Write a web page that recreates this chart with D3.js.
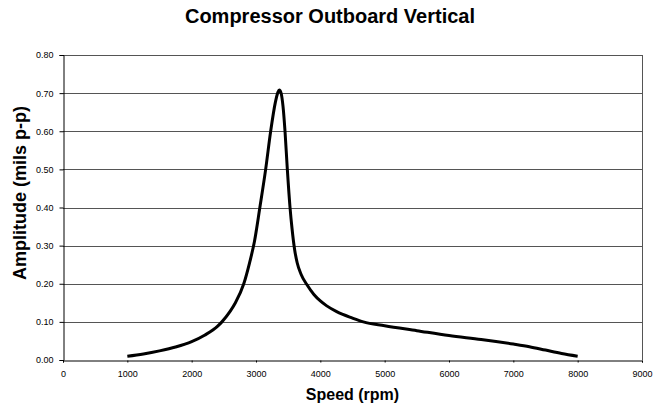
<!DOCTYPE html>
<html>
<head>
<meta charset="utf-8">
<script src="https://cdn.jsdelivr.net/npm/d3@7"></script>
<style>
  body { margin: 0; background: #fff; }
  svg { display: block; font-family: "Liberation Sans", Arial, sans-serif; }
</style>
</head>
<body>
<svg id="chart" width="662" height="408"></svg>
<script>
const speed = [1000, 1250, 1500, 1750, 2000, 2200, 2400, 2470, 2600, 2680, 2810, 2900, 2975, 3060, 3150, 3228, 3300, 3340, 3362, 3390, 3420, 3451, 3487, 3529, 3560, 3600, 3640, 3700, 3790, 3900, 4000, 4100, 4254, 4500, 4668, 5000, 5500, 6000, 6500, 7000, 7250, 7500, 7750, 8000];
const amplitude = [0.010, 0.016, 0.024, 0.034, 0.048, 0.065, 0.088, 0.100, 0.128, 0.150, 0.200, 0.255, 0.310, 0.400, 0.500, 0.600, 0.675, 0.702, 0.708, 0.700, 0.665, 0.600, 0.500, 0.400, 0.345, 0.290, 0.255, 0.225, 0.198, 0.172, 0.155, 0.142, 0.127, 0.110, 0.100, 0.090, 0.077, 0.064, 0.054, 0.042, 0.035, 0.026, 0.017, 0.010];
const xTicks = [0, 1000, 2000, 3000, 4000, 5000, 6000, 7000, 8000, 9000];
const yTicks = [0, 0.1, 0.2, 0.3, 0.4, 0.5, 0.6, 0.7, 0.8];
const title = "Compressor Outboard Vertical";
const xTitle = "Speed (rpm)";
const yTitle = "Amplitude (mils p-p)";

const svg = d3.select("#chart");
const L = 63, R = 642, T = 55, B = 360;
const x = d3.scaleLinear().domain([0, 9000]).range([L, R]);
const y = d3.scaleLinear().domain([0, 0.8]).range([B, T]);

// gridlines
svg.append("g").selectAll("line").data(yTicks.filter(d => d > 0)).join("line")
  .attr("x1", L).attr("x2", R)
  .attr("y1", d => Math.round(y(d)) + 0.5).attr("y2", d => Math.round(y(d)) + 0.5)
  .attr("stroke", "#555").attr("stroke-width", 1);
// right border
svg.append("line").attr("x1", R + 0.5).attr("x2", R + 0.5).attr("y1", T).attr("y2", B)
  .attr("stroke", "#555").attr("stroke-width", 1);

// y axis
const yAxis = svg.append("g").attr("transform", `translate(${L + 0.5},0)`)
  .call(d3.axisLeft(y).tickValues(yTicks).tickFormat(d3.format(".2f")).tickSizeOuter(0).tickSize(4).tickPadding(6));
yAxis.selectAll("text").attr("font-size", 9).attr("fill", "#000").attr("font-family", "'Liberation Sans', Arial, sans-serif");
yAxis.select(".domain").attr("stroke", "#000");

// x axis
const xAxis = svg.append("g").attr("transform", `translate(0,${B + 0.5})`)
  .call(d3.axisBottom(x).tickValues(xTicks).tickFormat(d3.format("d")).tickSizeOuter(0).tickSize(2).tickPadding(8));
xAxis.selectAll("text").attr("font-size", 9).attr("fill", "#000").attr("font-family", "'Liberation Sans Narrow', 'Liberation Sans', Arial, sans-serif");
xAxis.select(".domain").attr("stroke", "#000");

// curve
const pts = speed.map((s, i) => [s, amplitude[i]]);
svg.append("path").datum(pts)
  .attr("fill", "none").attr("stroke", "#000").attr("stroke-width", 3)
  .attr("stroke-linejoin", "round")
  .attr("d", d3.line().x(d => x(d[0])).y(d => y(d[1])).curve(d3.curveMonotoneX));

// titles
svg.append("text").attr("x", 330).attr("y", 23).attr("text-anchor", "middle")
  .attr("font-size", 20).attr("font-weight", "bold").text(title);
svg.append("text").attr("x", (L + R) / 2).attr("y", 400).attr("text-anchor", "middle")
  .attr("font-size", 16).attr("font-weight", "bold").text(xTitle);
svg.append("text").attr("transform", `translate(26,193) rotate(-90)`).attr("text-anchor", "middle")
  .attr("font-size", 18).attr("font-weight", "bold").text(yTitle);
</script>
</body>
</html>
